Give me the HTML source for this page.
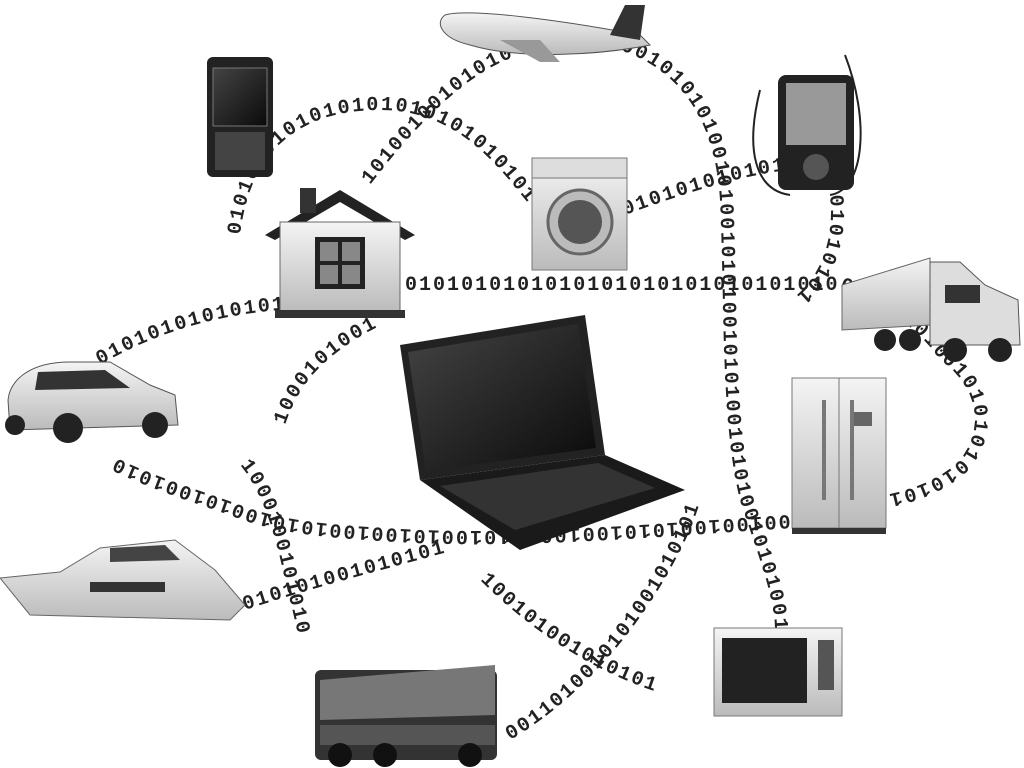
<!DOCTYPE html>
<html><head><meta charset="utf-8"><style>
html,body{margin:0;padding:0;background:#fff;width:1024px;height:768px;overflow:hidden}
svg{display:block}
text{font-family:"Liberation Mono",monospace;font-weight:bold;fill:#222}
</style></head><body>
<svg width="1024" height="768" viewBox="0 0 1024 768" xmlns="http://www.w3.org/2000/svg">
<defs>
<path id="p1" d="M240,235 C250,150 300,110 380,110 C460,110 500,170 530,205"/>
<path id="p2" d="M370,185 C420,120 470,70 520,55"/>
<path id="p2b" d="M620,50 C680,70 715,120 720,200 C725,300 720,420 740,500 C760,560 775,600 775,630"/>
<path id="p3" d="M625,215 C680,195 740,175 790,170"/>
<path id="p4" d="M830,195 C835,240 820,280 790,300"/>
<path id="p5a" d="M100,365 C160,330 220,315 280,310"/>
<path id="p5b" d="M405,290 L840,290 C880,300 920,330 940,360 C970,380 990,420 960,460 C940,480 910,490 885,495"/>
<path id="p6" d="M790,515 C700,520 550,535 420,530 C320,525 280,520 240,505 C200,490 130,470 95,445"/>
<path id="p7" d="M240,465 C270,500 280,560 290,600 C300,640 305,670 310,690"/>
<path id="p8" d="M245,610 C320,585 420,560 510,535"/>
<path id="p9" d="M510,740 C580,700 650,620 690,530 C710,480 715,440 720,400"/>
<path id="p10" d="M480,580 C540,640 620,690 710,705"/>
<path id="p11" d="M285,425 C300,380 330,340 440,300"/>
<linearGradient id="scr" x1="0" y1="0" x2="1" y2="1"><stop offset="0" stop-color="#444"/><stop offset="1" stop-color="#0a0a0a"/></linearGradient>
<linearGradient id="met" x1="0" y1="0" x2="0" y2="1"><stop offset="0" stop-color="#f4f4f4"/><stop offset="1" stop-color="#bbb"/></linearGradient>
</defs>
<g font-size="20" letter-spacing="2">
<text><textPath href="#p1">01010101010101010101010101010101</textPath></text>
<text><textPath href="#p2">10100100101010</textPath></text>
<text><textPath href="#p2b">001010101001010010101001010100101010010101001010</textPath></text>
<text><textPath href="#p3">0101010101010</textPath></text>
<text><textPath href="#p4">01010101</textPath></text>
<text><textPath href="#p5a">0101010101010101</textPath></text>
<text><textPath href="#p5b">010101010101010101010101010101001010101001010101010101010</textPath></text>
<text><textPath href="#p6">0010010010101001001010100101001001010100101001010</textPath></text>
<text><textPath href="#p7">1000100101010</textPath></text>
<text><textPath href="#p8">010101001010101</textPath></text>
<text><textPath href="#p9">0011010010101001010101</textPath></text>
<text><textPath href="#p10">100101001010101</textPath></text>
<text><textPath href="#p11">1000101001</textPath></text>
</g>
<!-- plane -->
<g>
<path d="M445,15 C470,8 560,20 640,35 L650,45 C600,55 520,60 470,45 C440,38 435,22 445,15 Z" fill="url(#met)" stroke="#555"/>
<path d="M610,35 L625,5 L645,5 L640,40 Z" fill="#333"/>
<path d="M500,40 L540,62 L560,62 L540,40 Z" fill="#999"/>
</g>
<!-- phone -->
<rect x="207" y="57" width="66" height="120" rx="6" fill="#222"/>
<rect x="213" y="68" width="54" height="58" fill="url(#scr)" stroke="#777"/>
<rect x="215" y="132" width="50" height="38" fill="#444"/>
<!-- mp3 -->
<path d="M760,90 C745,150 755,190 790,195 M845,55 C870,120 865,190 830,195" stroke="#222" fill="none" stroke-width="2"/>
<rect x="778" y="75" width="76" height="115" rx="8" fill="#222"/>
<rect x="786" y="83" width="60" height="62" fill="#999"/>
<circle cx="816" cy="167" r="13" fill="#555"/>
<!-- house -->
<path d="M265,235 L340,190 L415,235 L405,240 L340,202 L275,240 Z" fill="#222"/>
<rect x="300" y="188" width="16" height="25" fill="#333"/>
<rect x="280" y="222" width="120" height="90" fill="url(#met)" stroke="#666"/>
<rect x="315" y="237" width="50" height="52" fill="#222"/>
<rect x="320" y="242" width="18" height="19" fill="#888"/><rect x="342" y="242" width="18" height="19" fill="#888"/>
<rect x="320" y="265" width="18" height="19" fill="#888"/><rect x="342" y="265" width="18" height="19" fill="#888"/>
<rect x="275" y="310" width="130" height="8" fill="#333"/>
<!-- washer -->
<rect x="532" y="158" width="95" height="112" fill="url(#met)" stroke="#777"/>
<rect x="532" y="158" width="95" height="20" fill="#ddd" stroke="#777"/>
<circle cx="580" cy="222" r="32" fill="#bbb" stroke="#666" stroke-width="3"/>
<circle cx="580" cy="222" r="22" fill="#555"/>
<!-- truck -->
<path d="M842,285 L930,258 L930,325 L842,330 Z" fill="url(#met)" stroke="#666"/>
<path d="M930,262 L960,262 L985,285 L1018,300 L1020,345 L930,345 Z" fill="#ddd" stroke="#555"/>
<rect x="945" y="285" width="35" height="18" fill="#333"/>
<circle cx="885" cy="340" r="11" fill="#222"/><circle cx="910" cy="340" r="11" fill="#222"/>
<circle cx="955" cy="350" r="12" fill="#222"/><circle cx="1000" cy="350" r="12" fill="#222"/>
<!-- fridge -->
<rect x="792" y="378" width="94" height="150" fill="url(#met)" stroke="#777"/>
<line x1="839" y1="378" x2="839" y2="528" stroke="#777"/>
<rect x="822" y="400" width="4" height="100" fill="#777"/><rect x="850" y="400" width="4" height="100" fill="#777"/>
<rect x="854" y="412" width="18" height="14" fill="#666"/>
<rect x="792" y="528" width="94" height="6" fill="#333"/>
<!-- laptop -->
<path d="M400,345 L585,315 L605,455 L420,480 Z" fill="#222"/>
<path d="M408,352 L578,324 L596,448 L426,471 Z" fill="url(#scr)"/>
<path d="M420,480 L605,455 L685,490 L520,550 Z" fill="#1a1a1a"/>
<path d="M440,486 L598,463 L655,488 L515,530 Z" fill="#333"/>
<!-- car -->
<path d="M8,400 C10,380 30,362 70,362 L110,362 L150,385 L175,395 L178,425 L10,430 Z" fill="url(#met)" stroke="#555"/>
<path d="M38,372 L105,370 L130,388 L35,390 Z" fill="#333"/>
<circle cx="68" cy="428" r="15" fill="#222"/><circle cx="155" cy="425" r="13" fill="#222"/><circle cx="15" cy="425" r="10" fill="#222"/>
<!-- yacht -->
<path d="M0,578 L60,572 L100,548 L175,540 L215,570 L245,605 L230,620 L30,615 Z" fill="url(#met)" stroke="#666"/>
<rect x="90" y="582" width="75" height="10" fill="#333"/>
<path d="M110,548 L165,545 L180,560 L110,562 Z" fill="#444"/>
<!-- bus -->
<rect x="315" y="670" width="182" height="90" rx="6" fill="#333"/>
<path d="M320,680 L495,665 L495,715 L320,720 Z" fill="#777"/>
<rect x="320" y="725" width="175" height="20" fill="#555"/>
<circle cx="340" cy="755" r="12" fill="#111"/><circle cx="385" cy="755" r="12" fill="#111"/><circle cx="470" cy="755" r="12" fill="#111"/>
<!-- microwave -->
<rect x="714" y="628" width="128" height="88" fill="url(#met)" stroke="#777"/>
<rect x="722" y="638" width="85" height="65" fill="#222"/>
<rect x="818" y="640" width="16" height="50" fill="#555"/>
</svg>
</body></html>
